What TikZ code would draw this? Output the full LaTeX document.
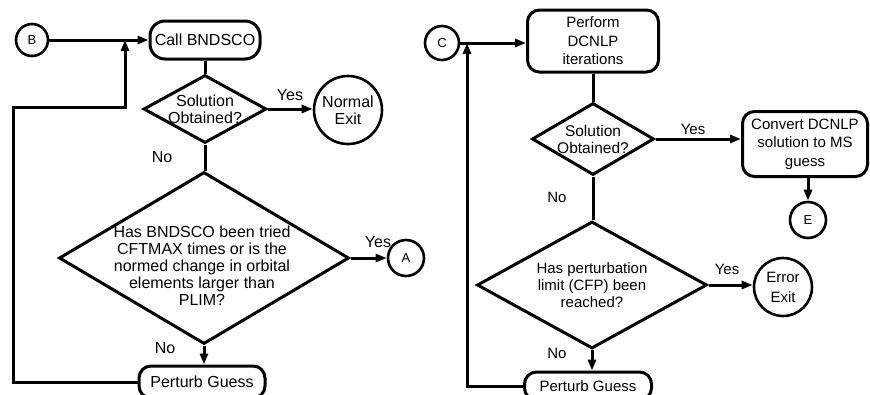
\documentclass[tikz,border=0pt]{standalone}
\usepackage{fontspec}
\setmainfont{Liberation Sans}
\usetikzlibrary{shapes.geometric,arrows.meta}
\begin{document}
\begin{tikzpicture}[x=1pt,y=-1pt,
  line width=3pt,
  flow/.style={-{Triangle[length=11pt,width=8pt]}},
  conn/.style={draw,circle,inner sep=0pt,line width=2.6pt,font=\fontsize{13}{15}\selectfont},
  proc/.style={draw,rounded corners=12pt,inner sep=0pt,align=center},
  decision/.style={draw,diamond,inner sep=0pt},
  dtext/.style={align=center,inner sep=0pt},
  term/.style={draw,circle,inner sep=0pt,line width=2.6pt,align=center},
  lbl/.style={inner sep=0pt},
  leftfont/.style={font=\fontsize{16}{17}\selectfont},
  rightfont/.style={font=\fontsize{15}{18.5}\selectfont}]

\fill[white] (0,0) rectangle (870,394);
\useasboundingbox (0,0) rectangle (870,394);
\clip (0,0) rectangle (870,394);

% ---------- left chart: BNDSCO loop ----------
\begin{scope}[every node/.append style={leftfont}]
\node[conn,minimum size=32pt] (B) at (32,40) {B};
\node[proc,minimum width=110pt,minimum height=38pt,rounded corners=15pt] (call) at (205,40) {Call BNDSCO};
\node[decision,minimum width=123pt,minimum height=68pt] (d1) at (205,109) {};
\node[dtext] (d1t) at (d1) {Solution\\Obtained?};
\node[term,minimum size=68pt] (normal) at (348,110) {Normal\\Exit};
\node[decision,minimum width=290pt,minimum height=172pt] (d2) at (204,258) {};
\node[dtext] (d2t) at (202,266) {Has BNDSCO been tried\\CFTMAX times or is the\\normed change in orbital\\elements larger than\\PLIM?};
\node[conn,minimum size=36pt] (A) at (406,258) {A};
\node[proc,minimum width=126pt,minimum height=32pt] (pgL) at (202,382) {Perturb Guess};

\node[lbl] (y1) at (290,95) {Yes};
\node[lbl] (n1) at (162,157) {No};
\node[lbl] (y2) at (378,242) {Yes};
\node[lbl] (n2) at (165,348) {No};
\end{scope}

\coordinate (jL) at (125,40);
\coordinate (fbL) at (13,107);

\draw[flow] (B) -- (call);
\draw (call.south) -- (call.south |- d1.north);
\draw[flow] (d1.east) -- (d1.east -| normal.west);
\draw (d1.south) -- (d1.south |- d2.north);
\draw[flow] (d2.east) -- (A);
\draw[flow] (d2.south) -- (d2.south |- pgL.north);
\draw[flow] (pgL.west) -| (fbL) -| (jL);

% ---------- right chart: DCNLP loop ----------
\begin{scope}[every node/.append style={rightfont}]
\node[conn,minimum size=34pt] (C) at (442,43) {C};
\node[proc,minimum width=131pt,minimum height=62pt] (perf) at (593,41) {Perform\\DCNLP\\iterations};
\node[decision,minimum width=122pt,minimum height=72pt] (d3) at (593,139) {};
\node[dtext,font=\fontsize{15.5}{17}\selectfont] (d3t) at (d3) {Solution\\Obtained?};
\node[proc,minimum width=125pt,minimum height=65pt] (conv) at (805,144) {Convert DCNLP\\solution to MS\\guess};
\node[conn,minimum size=36pt] (E) at (808,220) {E};
\node[decision,minimum width=230pt,minimum height=127pt] (d4) at (592,285) {};
\node[dtext,font=\fontsize{15}{17}\selectfont] (d4t) at (d4) {Has perturbation\\limit (CFP) been\\reached?};
\node[term,minimum size=58pt,font=\fontsize{15}{20}\selectfont] (err) at (783,287) {Error\\Exit};
\node[proc,minimum width=127pt,minimum height=28pt] (pgR) at (588,386) {Perturb Guess};

\node[lbl] (y3) at (693,129) {Yes};
\node[lbl] (n3) at (557,197) {No};
\node[lbl] (y4) at (727,269) {Yes};
\node[lbl] (n4) at (557,353) {No};
\end{scope}

\coordinate (jR) at (467,43);

\draw[flow] (C.east) -- (C.east -| perf.west);
\draw (perf.south) -- (perf.south |- d3.north);
\draw[flow] (d3.east) -- (d3.east -| conv.west);
\draw[flow] (E.north |- conv.south) -- (E.north);
\draw (d3.south) -- (d3.south |- d4.north);
\draw[flow] (d4.east) -- (d4.east -| err.west);
\draw[flow] (d4.south) -- (d4.south |- pgR.north);
\draw[flow] (pgR.west) -| (jR);

\end{tikzpicture}
\end{document}
